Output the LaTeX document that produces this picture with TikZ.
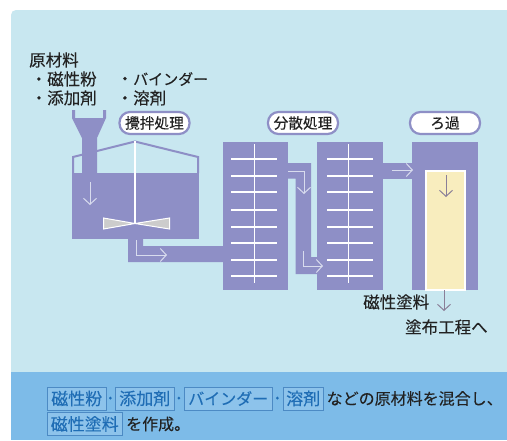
\documentclass[tikz,border=0pt]{standalone}
\usepackage{fontspec}
\setmainfont[FakeBold=0.15]{Noto Sans CJK JP}
\usetikzlibrary{arrows.meta}
\definecolor{bgl}{HTML}{C8E7F0}
\definecolor{bar}{HTML}{7DBBE8}
\definecolor{pur}{HTML}{8E8FC6}
\definecolor{yel}{HTML}{F8EDBE}
\definecolor{lite}{HTML}{D8DCEE}
\definecolor{dark}{HTML}{8A7F98}
\definecolor{kw}{HTML}{1F6DB5}
\definecolor{txt}{HTML}{222222}
\tikzset{
 x=1pt,y=-1pt,
 pill/.style={draw=pur,line width=2.2pt,fill=white,rounded corners=10.5pt,minimum width=70pt,minimum height=22pt,inner sep=0pt,font=\fontsize{14.7}{16}\selectfont,text=txt},
 lab/.style={inner sep=0pt,anchor=west,font=\fontsize{16.5}{17}\selectfont,text=txt},
 kwbox/.style={draw=kw!80,line width=.5pt,fill=bar!88!white,inner sep=0pt,minimum height=23pt,text=kw,font=\fontsize{17}{18}\selectfont},
 barlab/.style={inner sep=0pt,anchor=west,text=txt,font=\fontsize{16}{18}\selectfont},
 sep/.style={inner sep=0pt,text=kw,font=\fontsize{20}{20}\selectfont},
 flow/.style={draw=lite,line width=1pt,-{Straight Barb[length=6pt,width=13pt,line width=1pt]}},
 flowd/.style={draw=dark,line width=1pt,-{Straight Barb[length=6pt,width=13pt,line width=1pt]}},
 rung/.style={draw=white,line width=1.8pt},
}
\begin{document}
\begin{tikzpicture}
\useasboundingbox (0,0) rectangle (507,440);
\fill[white] (0,0) rectangle (507,440);
\fill[bgl] (11,372) [rounded corners=5pt] -- (11,10) [sharp corners] -- (507,10) -- (507,372) -- cycle;
\fill[bar] (11,372) rectangle (507,440);
% tank
\fill[pur] (72,173) rectangle (199,239);
\draw[pur,line width=2pt] (73,173) -- (73,157) -- (135,141.5) -- (198,157) -- (198,173);
% hopper
\fill[pur] (72,110) -- (75,110) -- (75,118) -- (103,118) -- (103,110) -- (106,110) -- (106,118) -- (97,138) -- (97,174) -- (82,174) -- (82,138) -- (72,118) -- cycle;
% pipe tank to col 1
\fill[pur] (128,238) -- (143,238) -- (143,246) -- (223,246) -- (223,262) -- (128,262) -- cycle;
% shaft and impeller
\draw[draw=white,line width=1.8pt] (135,141) -- (135,223);
\filldraw[draw=white,fill=black!20,line width=1pt] (103.5,218) -- (135,223.5) -- (103.5,229) -- cycle;
\filldraw[draw=white,fill=black!20,line width=1pt] (169.5,218) -- (135,223.5) -- (169.5,229) -- cycle;
% columns
\fill[pur] (222.5,142) rectangle (288,290);
\fill[pur] (317,142) rectangle (382.5,290);
\fill[pur] (412,142) rectangle (478,290);
\fill[pur] (288,163) -- (311,163) -- (311,257) -- (317.5,257) -- (317.5,274) -- (295.7,274) -- (295.7,178.5) -- (288,178.5) -- cycle;
\fill[pur] (382,163) rectangle (412.5,179);
\draw[rung] (254.5,144) -- (254.5,283);
\draw[rung] (348.5,144) -- (348.5,283);
\foreach \y in {159,176.3,192.3,209.7,226.7,243,259.7,275.7}{
 \draw[rung] (231,\y) -- (277,\y);
 \draw[rung] (327,\y) -- (372.5,\y);
}
\filldraw[draw=white,fill=yel,line width=2pt] (425.5,171) rectangle (464.5,290);
% flow arrows
\coordinate (t1) at (90,182); \coordinate (t2) at (90,205);
\draw[flow] (t1) -- (t2);
\coordinate (p1) at (136,240); \coordinate (p2) at (136,255); \coordinate (p3) at (167,255);
\draw[flow] (p1) -- (p2) -- (p3);
\coordinate (a1) at (288,171); \coordinate (a2) at (304,171); \coordinate (a3) at (304,194);
\draw[flow] (a1) -- (a2) -- (a3);
\coordinate (b1) at (303,251); \coordinate (b2) at (303,266); \coordinate (b3) at (323,266);
\draw[flow] (b1) -- (b2) -- (b3);
\coordinate (c1) at (392,170); \coordinate (c2) at (413,170);
\draw[flow] (c1) -- (c2);
\coordinate (d1) at (446,175); \coordinate (d2) at (446,197);
\draw[flowd] (d1) -- (d2);
\coordinate (e1) at (444,290); \coordinate (e2) at (444,311);
\draw[flowd] (e1) -- (e2);
% pills
\node[pill] (mix) at (154.5,123) {攪拌処理};
\node[pill] (disp) at (303,123) {分散処理};
\node[pill] (filt) at (445,123) {ろ過};
% labels
\node[lab] (raw) at (29,60) {原材料};
\node[lab] (d1a) at (30.5,79) {・磁性粉};
\node[lab] (d1b) at (30.5,98) {・添加剤};
\node[lab] (d2a) at (116.5,79) {・\fontsize{15}{17}\selectfont バインダー};
\node[lab] (d2b) at (116.5,98) {・溶剤};
\node[lab] (paint) at (363,302) {磁性塗料};
\node[lab] (next) at (405,327) {塗布工程へ};
% bottom text
\node[kwbox,minimum width=59pt,anchor=west] (k1) at (47,398.5) {磁性粉};
\node[kwbox,minimum width=59pt,anchor=west] (k2) at (115,398.5) {添加剤};
\node[kwbox,minimum width=88pt,anchor=west,font=\fontsize{16}{18}\selectfont] (k3) at (184,398.5) {バインダー};
\node[kwbox,minimum width=40pt,anchor=west] (k4) at (283,398.5) {溶剤};
\node[kwbox,minimum width=75pt,anchor=west] (k5) at (47,424) {磁性塗料};
\node[sep] (s1) at (110.5,401) {·};
\node[sep] (s2) at (179,401) {·};
\node[sep] (s3) at (277.5,401) {·};
\node[barlab] (r1) at (326.5,398.5) {などの原材料を混合し、};
\node[barlab] (r2) at (126,424) {を作成。};
\end{tikzpicture}
\end{document}
